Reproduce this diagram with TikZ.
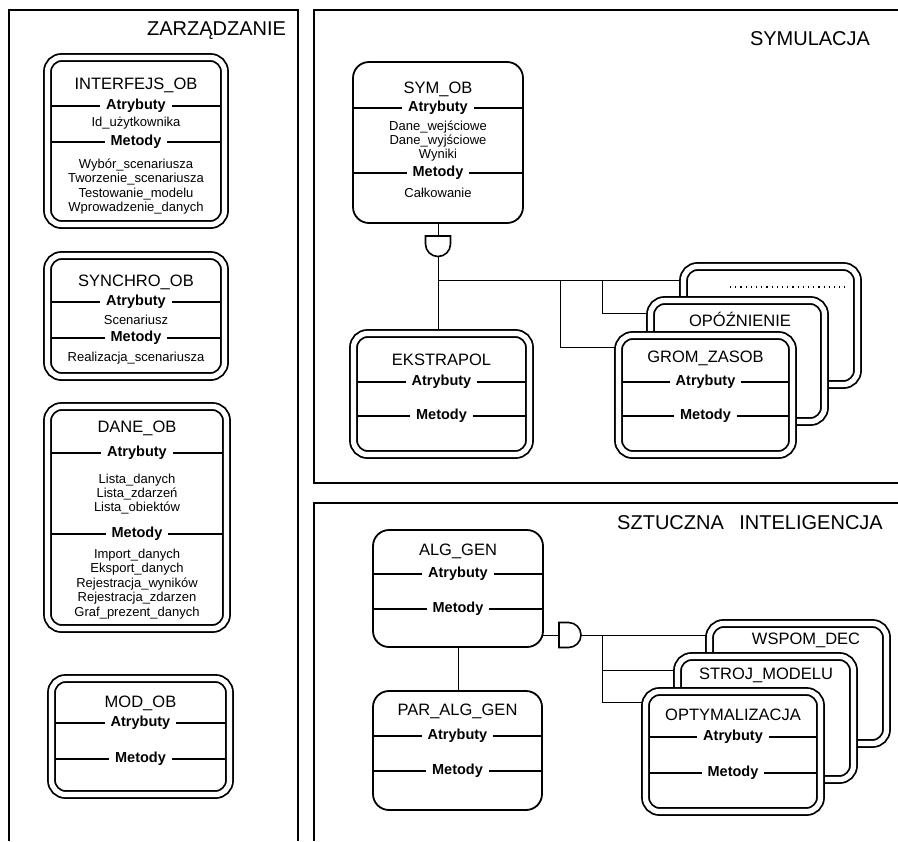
\documentclass[tikz,border=0pt]{standalone}
\usepackage{fontspec}
\setmainfont{Liberation Sans}
\usetikzlibrary{calc,fit,backgrounds}

\begin{document}
\begin{tikzpicture}[x=0.5pt, y=-0.5pt,
	panel/.style={line width=1pt},
	dblbox/.style={draw, fill=white, rounded corners=7pt, double, double distance=2.6pt,
		line width=0.9pt, inner sep=0pt, outer sep=0pt},
	onebox/.style={draw, fill=white, rounded corners=8pt, line width=0.9pt,
		inner sep=0pt, outer sep=0pt},
	naglowek/.style={font=\fontsize{10}{12}\selectfont, inner sep=0pt},
	tytul/.style={font=\fontsize{8.25}{9}\selectfont, inner sep=0pt},
	sekcja/.style={font=\bfseries\fontsize{7.25}{8}\selectfont, fill=white,
		inner xsep=3pt, inner ysep=0pt},
	pola/.style={font=\fontsize{6.5}{7.2}\selectfont, align=center, inner sep=0pt},
	kreska/.style={line width=0.7pt},
	polacz/.style={line width=0.5pt},
	gen/.style={draw, fill=white, line width=0.8pt},
	kropki/.style={dotted, line width=0.6pt}]

% frame %{{{2

	\useasboundingbox (0,0) rectangle (898,841);

% panels %{{{2

	\draw[panel] (9,841) -- (9,10) -- (298,10) -- (298,841);
	\draw[panel] (898,483) -- (314,483) -- (314,10) -- (898,10);
	\draw[panel] (898,503) -- (314,503) -- (314,841);

	\node[naglowek] (zarz) at (216.5,31) {ZARZĄDZANIE};
	\node[naglowek] (symul) at (810,39) {SYMULACJA};
	\node[naglowek] (szi) at (750,523) {SZTUCZNA\hspace{0.5em} INTELIGENCJA};

% zarzadzanie %{{{2

	\node[dblbox, fit={(47.5,57.5) (224.5,224.5)}] (interfejs) {};
	\node[tytul] (interfejs-t) at (interfejs.center |- 0,85) {INTERFEJS\_OB};
	\node[pola] (interfejs-a) at (interfejs.center |- 0,123) {Id\_użytkownika};
	\node[pola] (interfejs-m) at (interfejs.center |- 0,186.5)
		{Wybór\_scenariusza\\Tworzenie\_scenariusza\\Testowanie\_modelu\\Wprowadzenie\_danych};

	\node[dblbox, fit={(47.5,255.5) (224.5,376.5)}] (synchro) {};
	\node[tytul] (synchro-t) at (synchro.center |- 0,282) {SYNCHRO\_OB};
	\node[pola] (synchro-a) at (synchro.center |- 0,320) {Scenariusz};
	\node[pola] (synchro-m) at (synchro.center |- 0,358) {Realizacja\_scenariusza};

	\node[dblbox, fit={(47.5,406.5) (226.5,628.5)}] (dane) {};
	\node[tytul] (dane-t) at (dane.center |- 0,428) {DANE\_OB};
	\node[pola] (dane-a) at (dane.center |- 0,494)
		{Lista\_danych\\Lista\_zdarzeń\\Lista\_obiektów};
	\node[pola] (dane-m) at (dane.center |- 0,584)
		{Import\_danych\\Eksport\_danych\\Rejestracja\_wyników\\Rejestracja\_zdarzen\\Graf\_prezent\_danych};

	\node[dblbox, fit={(51.5,678.5) (229.5,794.5)}] (mod) {};
	\node[tytul] (mod-t) at (mod.center |- 0,703) {MOD\_OB};

% symulacja %{{{2

	\node[onebox, fit={(353,62) (523,223)}] (symob) {};
	\node[tytul] (symob-t) at (symob.center |- 0,89) {SYM\_OB};
	\node[pola] (symob-a) at (symob.center |- 0,141)
		{Dane\_wejściowe\\Dane\_wyjściowe\\Wyniki};
	\node[pola] (symob-m) at (symob.center |- 0,193) {Całkowanie};

	\node[dblbox, fit={(353.5,333.5) (529.5,454.5)}] (ekstrapol) {};
	\node[tytul] (ekstrapol-t) at (ekstrapol.center |- 0,360) {EKSTRAPOL};

	\node[dblbox, fit={(683.5,266.5) (857.5,384.5)}] (kolejny) {};
	\draw[kropki] (730,287) -- (845,287);

	\node[dblbox, fit={(650.5,300.5) (824.5,421.5)}] (opoznienie) {};
	\node[tytul] (opoznienie-t) at (740,319) {OPÓŹNIENIE};

	\node[dblbox, fit={(618.5,335.5) (792.5,454.5)}] (gromzasob) {};
	\node[tytul] (gromzasob-t) at (gromzasob.center |- 0,358) {GROM\_ZASOB};

	% generalization symbol
	\coordinate (symgen-g) at (438,236);
	\coordinate (symgen) at (438,256.5);
	\draw[gen] (symgen-g) ++(-12.5,0) -- ++(25,0) -- ++(0,8) arc (0:180:12.5) -- cycle;

	\coordinate (sbus) at (438,280);
	\coordinate (sb1) at (560,280);
	\coordinate (sb2) at (602,280);

% sztuczna inteligencja %{{{2

	\node[onebox, fit={(373,530) (543,647)}] (alggen) {};
	\node[tytul] (alggen-t) at (alggen.center |- 0,551) {ALG\_GEN};

	\node[onebox, fit={(373,691) (542,810)}] (paralggen) {};
	\node[tytul] (paralggen-t) at (paralggen.center |- 0,711) {PAR\_ALG\_GEN};

	\node[dblbox, fit={(709.5,623.5) (886.5,743.5)}] (wspomdec) {};
	\node[tytul] (wspomdec-t) at (806,640) {WSPOM\_DEC};

	\node[dblbox, fit={(677.5,656.5) (853.5,779.5)}] (strojmod) {};
	\node[tytul] (strojmod-t) at (766,675) {STROJ\_MODELU};

	\node[dblbox, fit={(645.5,691.5) (820.5,811.5)}] (optym) {};
	\node[tytul] (optym-t) at (optym.center |- 0,715) {OPTYMALIZACJA};

	% generalization symbol
	\coordinate (aigen-g) at (559,635);
	\coordinate (aigen) at (581,635);
	\draw[gen] (aigen-g) ++(0,-12.5) -- ++(9.5,0) arc (-90:90:12.5) -- ++(-9.5,0) -- cycle;

	\coordinate (ab1) at (602,635);

% compartments %{{{2

	\foreach \k/\y/\napis/\ins in {
		interfejs/106/Atrybuty/3.5, interfejs/142/Metody/3.5,
		synchro/302/Atrybuty/3.5, synchro/338/Metody/3.5,
		dane/453/Atrybuty/3.5, dane/534/Metody/3.5,
		mod/723/Atrybuty/3.5, mod/759/Metody/3.5,
		symob/108/Atrybuty/0, symob/173/Metody/0,
		ekstrapol/382/Atrybuty/3.5, ekstrapol/416/Metody/3.5,
		gromzasob/382/Atrybuty/3.5, gromzasob/416/Metody/3.5,
		alggen/574/Atrybuty/0, alggen/609/Metody/0,
		paralggen/736/Atrybuty/0, paralggen/771/Metody/0,
		optym/737/Atrybuty/3.5, optym/773/Metody/3.5} {
		\draw[kreska] ($(\k.west |- 0,\y)+(\ins,0)$) -- ($(\k.east |- 0,\y)-(\ins,0)$);
		\node[sekcja] (\k-\napis) at (\k.center |- 0,\y) {\napis};
	}

% connectors %{{{2

	\begin{pgfonlayer}{background}
		\draw[polacz] (symob.south) -- (symgen-g);
		\draw[polacz] (symgen) -- (symgen |- ekstrapol.north);
		\draw[polacz] (sbus) -- (kolejny.west |- sbus);
		\draw[polacz] (sb1) |- (gromzasob.west |- 0,347);
		\draw[polacz] (sb2) |- (opoznienie.west |- 0,313);

		\draw[polacz] (alggen.east |- aigen-g) -- (aigen-g);
		\draw[polacz] (aigen) -- (wspomdec.west |- aigen);
		\draw[polacz] (ab1) |- (strojmod.west |- 0,670);
		\draw[polacz] (ab1) |- (optym.west |- 0,702);
		\draw[polacz] (alggen.south) -- (alggen.south |- paralggen.north);
	\end{pgfonlayer}

% closing %{{{2

\end{tikzpicture}
\end{document}
